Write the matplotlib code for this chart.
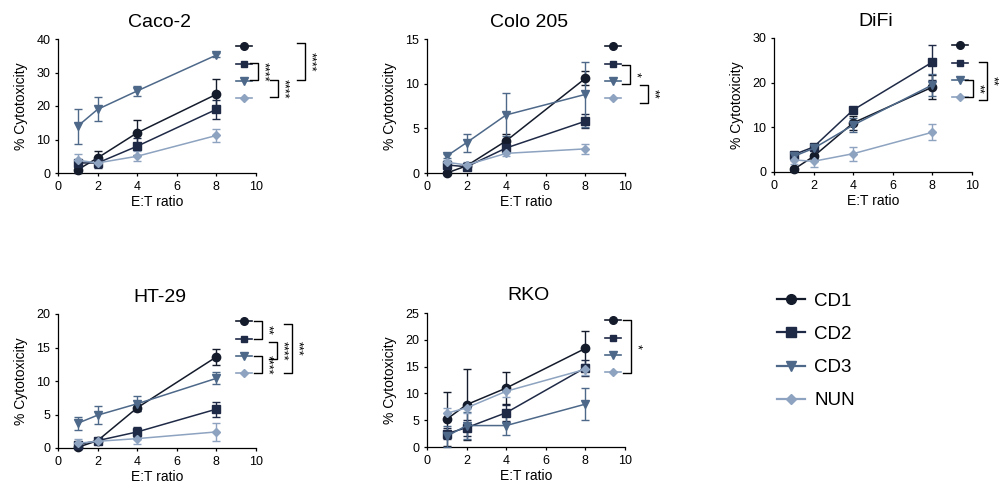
import matplotlib
matplotlib.use("Agg")
import matplotlib.pyplot as plt
from matplotlib.lines import Line2D

plt.rcParams['font.family'] = ['Liberation Sans', 'DejaVu Sans']

# E:T ratios
et_ratio = [1, 2, 4, 8]
groups = ['CD1', 'CD2', 'CD3', 'NUN']

# mean % cytotoxicity, one row per group (CD1, CD2, CD3, NUN)
caco2_mean = [[1.0, 4.5, 12.0, 23.5], [3.0, 3.0, 8.0, 19.0],
              [14.0, 19.0, 24.5, 35.2], [3.8, 3.0, 5.0, 11.2]]
caco2_err = [[1.0, 2.0, 3.7, 4.5], [1.0, 1.5, 2.5, 2.8],
             [5.2, 3.6, 1.5, 0.5], [2.0, 1.0, 1.5, 1.8]]

colo205_mean = [[0.0, 0.8, 3.6, 10.6], [0.9, 0.7, 2.8, 5.8],
                [1.9, 3.4, 6.5, 8.8], [1.2, 0.9, 2.2, 2.7]]
colo205_err = [[0.1, 0.3, 0.8, 0.8], [0.3, 0.3, 0.5, 0.8],
               [0.2, 1.0, 2.4, 3.6], [0.2, 0.3, 0.3, 0.6]]

difi_mean = [[0.6, 3.5, 11.0, 19.0], [3.9, 5.6, 13.9, 24.6],
             [3.5, 5.3, 10.5, 19.5], [2.7, 2.4, 4.1, 8.9]]
difi_err = [[0.3, 0.5, 1.5, 2.7], [0.5, 0.5, 0.5, 3.9],
            [0.5, 0.5, 1.5, 2.5], [1.0, 1.3, 1.6, 1.8]]

ht29_mean = [[0.1, 1.1, 6.0, 13.6], [0.5, 1.1, 2.4, 5.8],
             [3.7, 4.9, 6.6, 10.4], [0.7, 1.0, 1.4, 2.4]]
ht29_err = [[0.2, 0.2, 0.5, 1.2], [0.3, 0.2, 0.8, 1.1],
            [1.0, 1.3, 1.1, 0.9], [0.7, 0.3, 0.8, 1.4]]

rko_mean = [[5.2, 7.9, 11.0, 18.4], [2.5, 3.6, 6.4, 14.8],
            [2.0, 4.0, 4.0, 8.0], [6.3, 7.3, 10.4, 14.5]]
rko_err = [[5.1, 6.6, 2.9, 3.3], [1.0, 1.5, 1.5, 1.5],
           [2.0, 2.5, 1.8, 3.0], [1.0, 1.0, 1.0, 1.0]]

# significance brackets: (pixel y top, pixel y bottom, pixel x, stars)
caco2_sig = [(24, 41, 200, '****'), (41, 58, 220, '****'), (4, 41, 247, '****')]
colo205_sig = [(26, 45, 203, '*'), (46, 64, 221, '**')]
difi_sig = [(42, 59, 199, '**'), (24, 62, 213, '**')]
ht29_sig = [(7, 25, 204, '**'), (28, 45, 219, '****'), (42, 59, 204, '****'), (10, 59, 234, '***')]
rko_sig = [(7, 60, 204, '*')]

colors = ['#141b2b', '#1f2a47', '#4d6889', '#8da3c0']
markers = ['o', 's', 'v', 'D']
msizes = [6, 5.5, 6, 4.5]

W, H = 1002, 495
AW, AH = 198, 134

fig = plt.figure(figsize=(W / 100, H / 100), dpi=100)

panels = [
    ('Caco-2', 58, 173, 40, 10, caco2_mean, caco2_err, caco2_sig),
    ('Colo 205', 427, 173, 15, 5, colo205_mean, colo205_err, colo205_sig),
    ('DiFi', 774, 172, 30, 10, difi_mean, difi_err, difi_sig),
    ('HT-29', 58, 448, 20, 5, ht29_mean, ht29_err, ht29_sig),
    ('RKO', 427, 447, 25, 5, rko_mean, rko_err, rko_sig),
]

row_y = [7, 24.5, 42, 59]


def px(x, y):
    # pixel offsets from the axes top-left corner -> axes fraction
    return x / AW, 1 - y / AH


for title, left, bottom, ymax, ystep, means, errs, sigs in panels:
    ax = fig.add_axes([left / W, 1 - bottom / H, AW / W, AH / H])
    for i in range(4):
        ax.errorbar(et_ratio, means[i], yerr=errs[i], color=colors[i],
                    marker=markers[i], markersize=msizes[i], linewidth=1.1,
                    elinewidth=1.0, capsize=3, capthick=1.0, clip_on=False, zorder=3)
    ax.set_xlim(0, 10)
    ax.set_ylim(0, ymax)
    ax.set_xticks(range(0, 11, 2))
    ax.set_yticks(range(0, ymax + 1, ystep))
    for s in ['top', 'right']:
        ax.spines[s].set_visible(False)
    for s in ['left', 'bottom']:
        ax.spines[s].set_linewidth(0.9)
    ax.tick_params(direction='out', length=2.5, width=0.9, labelsize=9, pad=3)
    ax.set_xlabel('E:T ratio', fontsize=10, labelpad=2)
    ax.set_ylabel('% Cytotoxicity', fontsize=10, labelpad=6)
    ax.set_title(title, fontsize=14, x=0.515, pad=9)

    # small key markers next to each panel
    for i in range(4):
        x0, y0 = px(178, row_y[i])
        x1, _ = px(194, row_y[i])
        ax.plot([x0, x1], [y0, y0], transform=ax.transAxes, color=colors[i],
                linewidth=1.2, clip_on=False)
        ax.plot([(x0 + x1) / 2], [y0], transform=ax.transAxes, color=colors[i],
                marker=markers[i], markersize=msizes[i] - 0.5, clip_on=False)

    for y1, y2, xb, stars in sigs:
        xa, ya = px(xb - 8, y1)
        xv, yb = px(xb, y2)
        ax.plot([xa, xv, xv, xa], [ya, ya, yb, yb], transform=ax.transAxes,
                color='black', linewidth=1.0, clip_on=False)
        xt, yt = px(xb + 5.5, (y1 + y2) / 2)
        ax.text(xt, yt, stars, transform=ax.transAxes, rotation=270,
                fontsize=9, ha='center', va='center')

handles = [Line2D([0], [0], color=colors[i], marker=markers[i],
                  markersize=msizes[i] + 1, linewidth=1.6) for i in range(4)]
fig.legend(handles, groups, loc='center left', bbox_to_anchor=(777 / W, 1 - 351 / H),
           frameon=False, fontsize=13.5, handlelength=1.5, handletextpad=0.48,
           labelspacing=0.85, borderpad=0, borderaxespad=0)

fig.savefig('out.png', dpi=100)
